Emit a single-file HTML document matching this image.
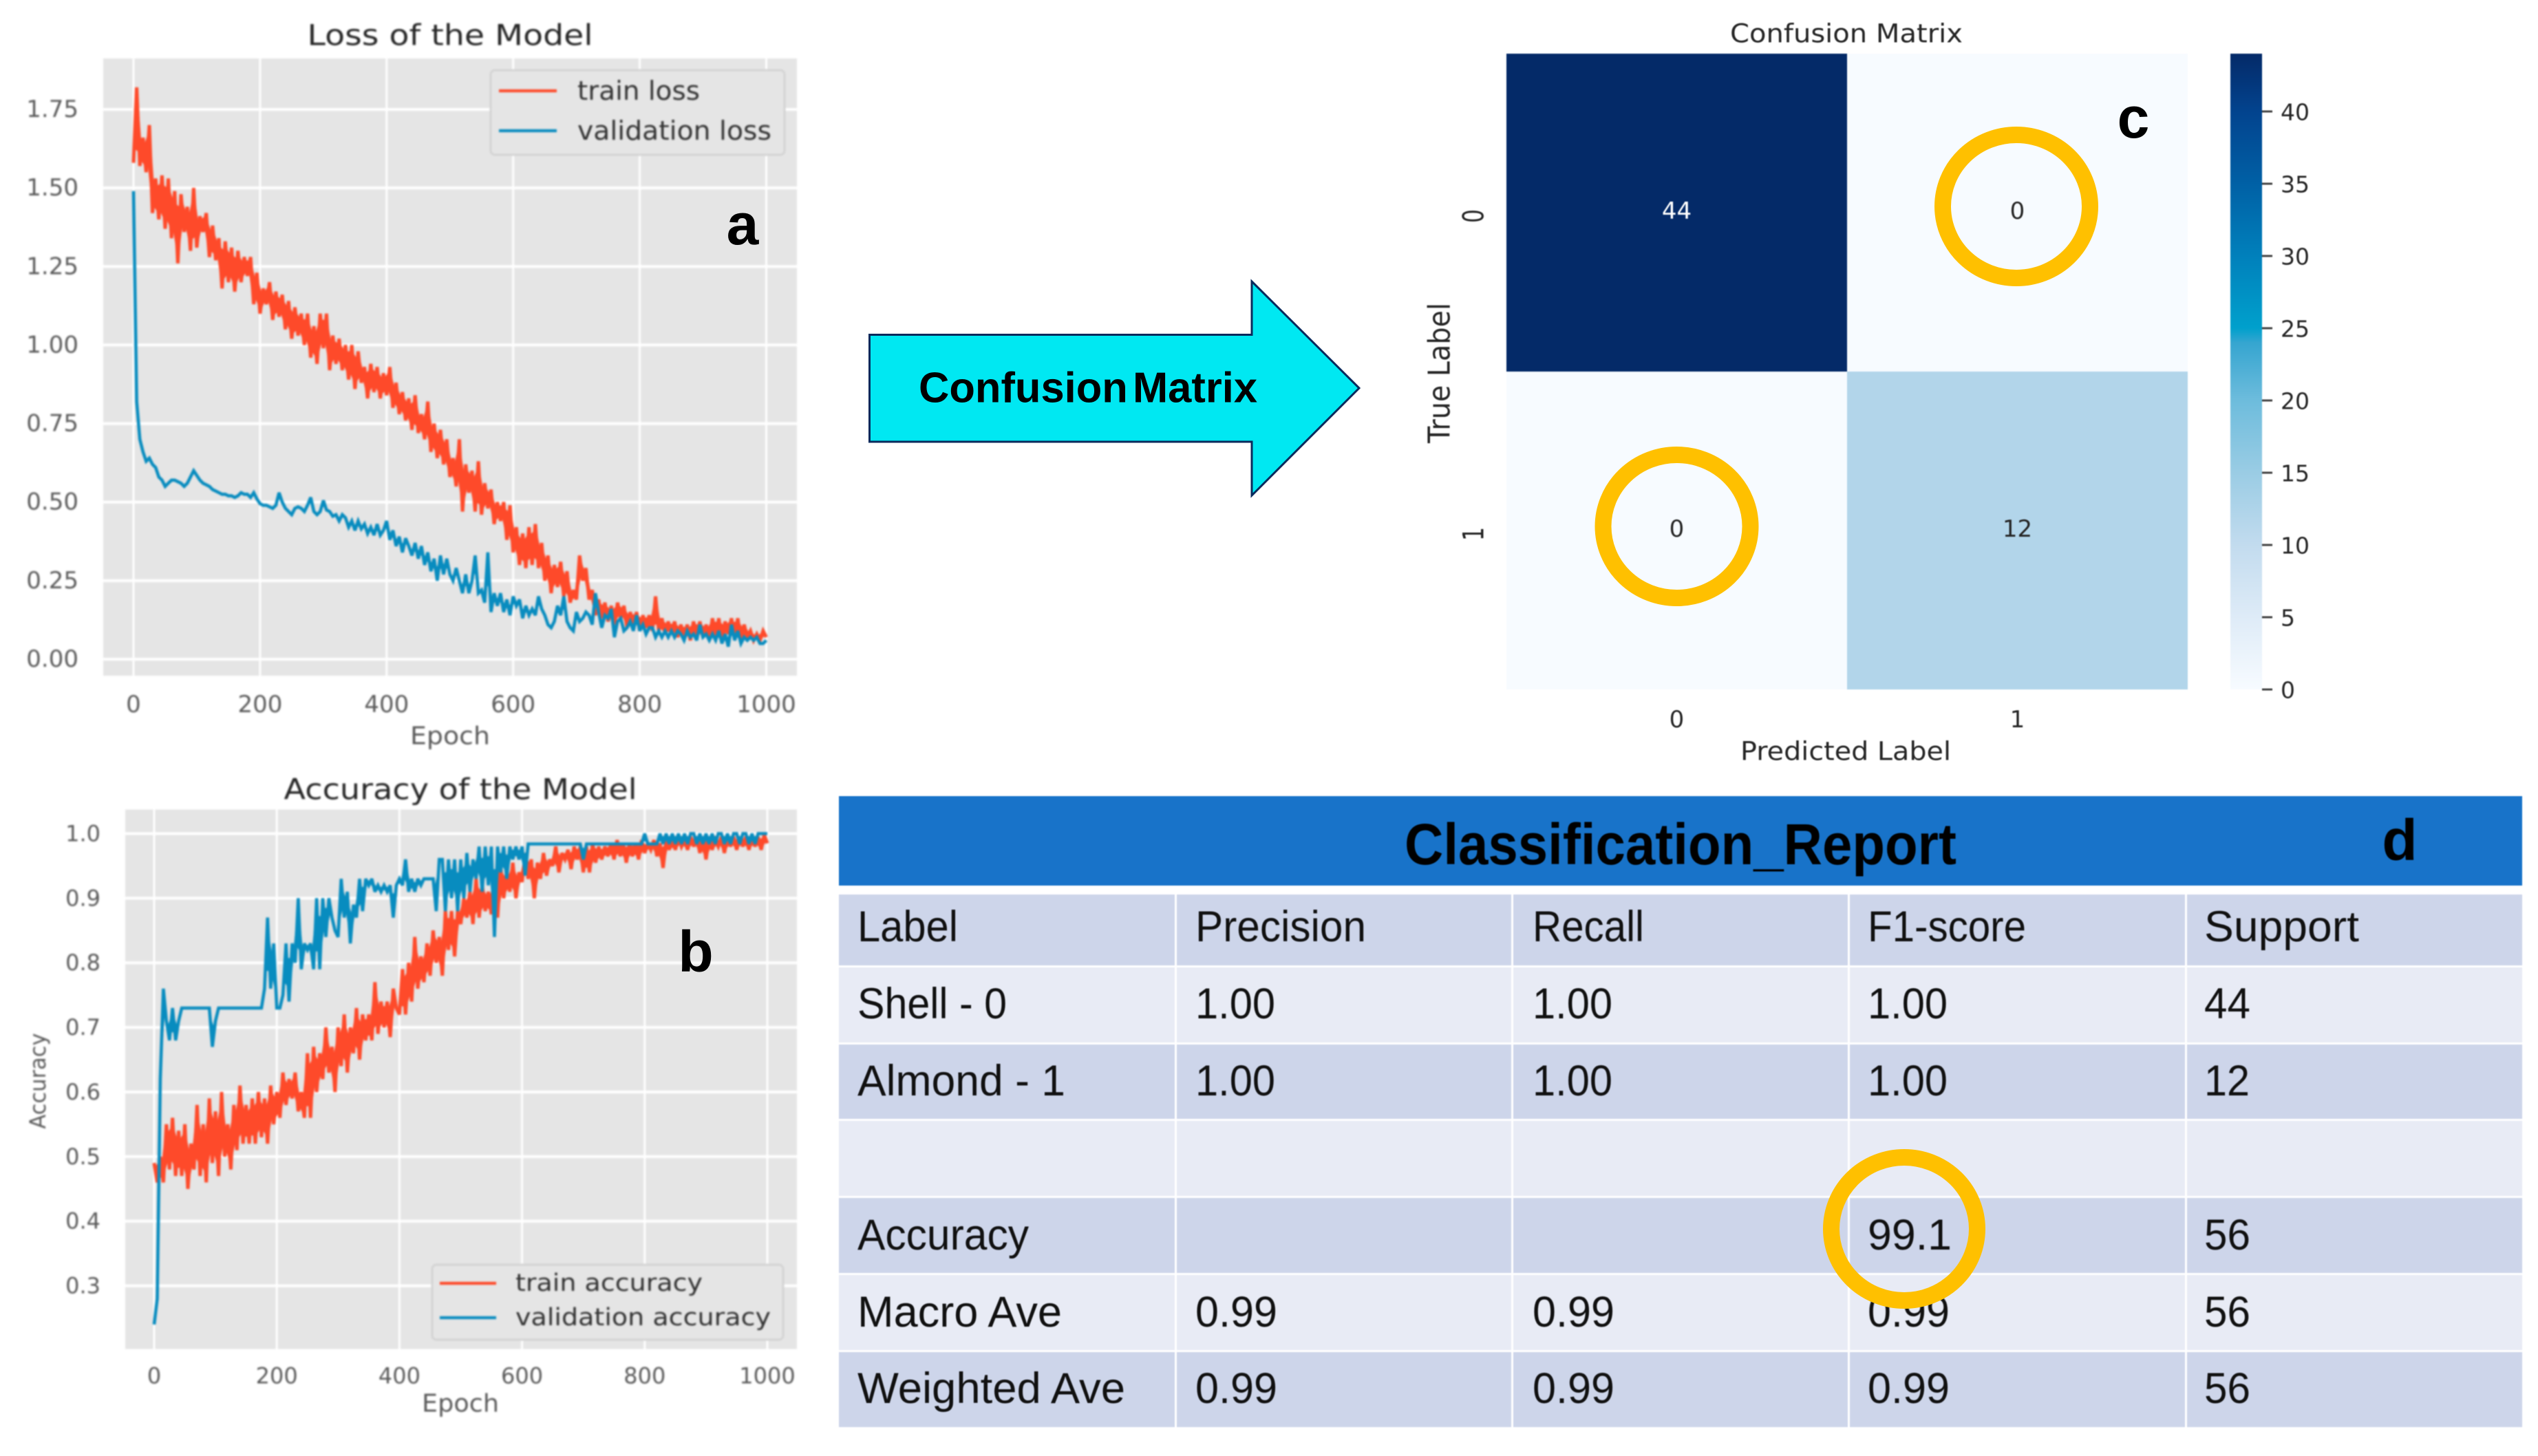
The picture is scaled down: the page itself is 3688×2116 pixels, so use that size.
<!DOCTYPE html>
<html lang="en">
<head>
<meta charset="utf-8">
<title>Model training results</title>
<style>
html,body{margin:0;padding:0;background:#fff;}
#figure{display:block;width:3688px;height:2116px;}
text{font-family:"DejaVu Sans",sans-serif;}
.lib text,text.lib{font-family:"Liberation Sans",sans-serif;}
.soft{filter:blur(1.3px);}
.soft2{filter:blur(0.7px);}
</style>
</head>
<body>
<svg id="figure" xmlns="http://www.w3.org/2000/svg" width="3688" height="2116" viewBox="0 0 3688 2116">
  <rect x="0" y="0" width="3688" height="2116" fill="#ffffff"/>
  <g id="chartA" class="soft"></g>
  <g id="chartB" class="soft"></g>
  <g id="chartC" class="soft2"></g>

  <g class="lib">
    <text x="1079" y="355" font-size="84" font-weight="700" text-anchor="middle" fill="#000">a</text>
    <text x="1011" y="1412" font-size="84" font-weight="700" text-anchor="middle" fill="#000">b</text>
    <text x="3100" y="200" font-size="84" font-weight="700" text-anchor="middle" fill="#000">c</text>
  </g>

  <g>
    <polygon points="1263.5,486.5 1819,486.5 1819,409 1975,564 1819,720 1819,642 1263.5,642" fill="#00e8f2" stroke="#0a2a5c" stroke-width="3"/>
    <text class="lib" x="1335" y="564" font-size="62" font-weight="700" fill="#000" dominant-baseline="central" word-spacing="-10" textLength="492" lengthAdjust="spacingAndGlyphs">Confusion Matrix</text>
  </g>

  <g class="lib soft2">
    <rect x="1219" y="1157" width="2446" height="130" fill="#1873c9"/>
    <text x="2041" y="1227" font-size="84" font-weight="700" fill="#000" dominant-baseline="central" textLength="802" lengthAdjust="spacingAndGlyphs">Classification_Report</text>
    <text x="3487" y="1250" font-size="84" font-weight="700" fill="#000" text-anchor="middle">d</text>

    <rect x="1219" y="1300" width="2446" height="103" fill="#cdd5ea"/>
    <rect x="1219" y="1406" width="2446" height="109" fill="#e8ebf5"/>
    <rect x="1219" y="1518" width="2446" height="108" fill="#cdd5ea"/>
    <rect x="1219" y="1629" width="2446" height="109" fill="#e8ebf5"/>
    <rect x="1219" y="1741" width="2446" height="109" fill="#cdd5ea"/>
    <rect x="1219" y="1853" width="2446" height="109" fill="#e8ebf5"/>
    <rect x="1219" y="1965" width="2446" height="109" fill="#cdd5ea"/>

    <rect x="1707" y="1287" width="3" height="787" fill="#ffffff"/>
    <rect x="2196" y="1287" width="3" height="787" fill="#ffffff"/>
    <rect x="2685" y="1287" width="3" height="787" fill="#ffffff"/>
    <rect x="3175" y="1287" width="3" height="787" fill="#ffffff"/>

    <g font-size="63" fill="#111">
      <text x="1246" y="1347" dominant-baseline="central" textLength="146" lengthAdjust="spacingAndGlyphs">Label</text>
      <text x="1737" y="1347" dominant-baseline="central" textLength="248" lengthAdjust="spacingAndGlyphs">Precision</text>
      <text x="2227" y="1347" dominant-baseline="central" textLength="162" lengthAdjust="spacingAndGlyphs">Recall</text>
      <text x="2714" y="1347" dominant-baseline="central" textLength="230" lengthAdjust="spacingAndGlyphs">F1-score</text>
      <text x="3203" y="1347" dominant-baseline="central" textLength="225" lengthAdjust="spacingAndGlyphs">Support</text>

      <text x="1246" y="1459" dominant-baseline="central" textLength="217" lengthAdjust="spacingAndGlyphs">Shell - 0</text>
      <text x="1737" y="1459" dominant-baseline="central" textLength="116" lengthAdjust="spacingAndGlyphs">1.00</text>
      <text x="2227" y="1459" dominant-baseline="central" textLength="116" lengthAdjust="spacingAndGlyphs">1.00</text>
      <text x="2714" y="1459" dominant-baseline="central" textLength="116" lengthAdjust="spacingAndGlyphs">1.00</text>
      <text x="3203" y="1459" dominant-baseline="central" textLength="67" lengthAdjust="spacingAndGlyphs">44</text>

      <text x="1246" y="1571" dominant-baseline="central" textLength="302" lengthAdjust="spacingAndGlyphs">Almond - 1</text>
      <text x="1737" y="1571" dominant-baseline="central" textLength="116" lengthAdjust="spacingAndGlyphs">1.00</text>
      <text x="2227" y="1571" dominant-baseline="central" textLength="116" lengthAdjust="spacingAndGlyphs">1.00</text>
      <text x="2714" y="1571" dominant-baseline="central" textLength="116" lengthAdjust="spacingAndGlyphs">1.00</text>
      <text x="3203" y="1571" dominant-baseline="central" textLength="66" lengthAdjust="spacingAndGlyphs">12</text>

      <text x="1246" y="1795" dominant-baseline="central" textLength="249" lengthAdjust="spacingAndGlyphs">Accuracy</text>
      <text x="2714" y="1795" dominant-baseline="central" textLength="122" lengthAdjust="spacingAndGlyphs">99.1</text>
      <text x="3203" y="1795" dominant-baseline="central" textLength="67" lengthAdjust="spacingAndGlyphs">56</text>

      <text x="1246" y="1907" dominant-baseline="central" textLength="297" lengthAdjust="spacingAndGlyphs">Macro Ave</text>
      <text x="1737" y="1907" dominant-baseline="central" textLength="119" lengthAdjust="spacingAndGlyphs">0.99</text>
      <text x="2227" y="1907" dominant-baseline="central" textLength="119" lengthAdjust="spacingAndGlyphs">0.99</text>
      <text x="2714" y="1907" dominant-baseline="central" textLength="119" lengthAdjust="spacingAndGlyphs">0.99</text>
      <text x="3203" y="1907" dominant-baseline="central" textLength="67" lengthAdjust="spacingAndGlyphs">56</text>

      <text x="1246" y="2018" dominant-baseline="central" textLength="389" lengthAdjust="spacingAndGlyphs">Weighted Ave</text>
      <text x="1737" y="2018" dominant-baseline="central" textLength="119" lengthAdjust="spacingAndGlyphs">0.99</text>
      <text x="2227" y="2018" dominant-baseline="central" textLength="119" lengthAdjust="spacingAndGlyphs">0.99</text>
      <text x="2714" y="2018" dominant-baseline="central" textLength="119" lengthAdjust="spacingAndGlyphs">0.99</text>
      <text x="3203" y="2018" dominant-baseline="central" textLength="67" lengthAdjust="spacingAndGlyphs">56</text>
    </g>
  </g>

  <g fill="none" stroke="#ffc000" stroke-width="24">
    <ellipse cx="2930" cy="300" rx="107" ry="104"/>
    <ellipse cx="2436.5" cy="765" rx="107" ry="104"/>
    <ellipse cx="2767" cy="1786" rx="106" ry="104"/>
  </g>
</svg>

<script>
// ---- Chart data ----
const sampleEvery = 5; // epochs between values
const lossXTicks = [0, 200, 400, 600, 800, 1000];
const lossYTicks = [0, 0.25, 0.5, 0.75, 1, 1.25, 1.5, 1.75];
const lossYLabels = ['0.00', '0.25', '0.50', '0.75', '1.00', '1.25', '1.50', '1.75'];
const trainLoss = [
1.58,1.82,1.57,1.66,1.55,1.70,1.42,1.53,1.40,1.54,
1.37,1.53,1.34,1.49,1.26,1.48,1.36,1.44,1.30,1.50,
1.31,1.41,1.36,1.42,1.28,1.38,1.27,1.34,1.18,1.33,
1.20,1.31,1.17,1.30,1.20,1.28,1.22,1.28,1.13,1.23,
1.10,1.18,1.13,1.20,1.08,1.17,1.09,1.16,1.05,1.14,
1.02,1.12,1.03,1.10,1.00,1.10,0.96,1.06,0.94,1.10,
0.99,1.10,0.92,1.03,0.94,1.02,0.92,1.00,0.89,1.00,
0.86,0.98,0.88,0.93,0.83,0.94,0.85,0.93,0.83,0.91,
0.84,0.93,0.80,0.88,0.78,0.85,0.76,0.83,0.73,0.84,
0.72,0.78,0.70,0.82,0.66,0.75,0.64,0.73,0.62,0.70,
0.58,0.64,0.55,0.70,0.47,0.62,0.53,0.60,0.47,0.63,
0.46,0.56,0.48,0.54,0.43,0.50,0.44,0.50,0.38,0.49,
0.34,0.42,0.30,0.40,0.29,0.42,0.30,0.43,0.29,0.37,
0.25,0.33,0.21,0.30,0.23,0.31,0.20,0.28,0.18,0.22,
0.19,0.33,0.25,0.29,0.19,0.22,0.14,0.19,0.13,0.18,
0.12,0.17,0.11,0.18,0.13,0.17,0.10,0.15,0.11,0.15,
0.09,0.14,0.10,0.14,0.09,0.20,0.09,0.13,0.08,0.12,
0.08,0.12,0.07,0.11,0.07,0.11,0.06,0.12,0.07,0.12,
0.07,0.11,0.06,0.13,0.07,0.13,0.06,0.12,0.08,0.13,
0.07,0.13,0.06,0.11,0.07,0.09,0.06,0.08,0.06,0.09,0.07
];
const valLoss = [
1.49,.82,.70,.66,.63,.64,.62,.61,.58,.57,
.55,.56,.57,.57,.565,.56,.55,.56,.58,.60,
.585,.57,.56,.555,.55,.54,.535,.53,.525,.525,
.52,.52,.515,.52,.53,.525,.525,.515,.53,.51,
.495,.49,.49,.485,.48,.49,.53,.50,.48,.47,
.46,.48,.485,.48,.47,.49,.515,.47,.46,.47,
.505,.475,.47,.455,.46,.44,.46,.45,.42,.44,
.41,.44,.415,.43,.40,.42,.395,.43,.395,.41,
.44,.38,.41,.36,.39,.34,.385,.36,.33,.37,
.32,.36,.30,.34,.28,.32,.25,.33,.27,.32,
.27,.25,.29,.25,.21,.27,.21,.25,.33,.21,
.22,.18,.34,.15,.21,.17,.21,.15,.19,.14,
.20,.17,.19,.13,.17,.14,.16,.14,.20,.16,
.14,.11,.10,.12,.17,.14,.20,.12,.10,.09,
.15,.12,.13,.15,.14,.11,.21,.15,.10,.14,
.13,.16,.07,.12,.13,.09,.10,.12,.09,.14,
.09,.11,.08,.10,.10,.07,.09,.07,.09,.07,
.09,.07,.09,.08,.06,.09,.07,.08,.06,.11,
.07,.08,.06,.08,.06,.09,.05,.08,.04,.11,
.06,.09,.05,.07,.06,.07,.06,.07,.05,.05,.06
];
const accXTicks = [0, 200, 400, 600, 800, 1000];
const accYTicks = [0.3, 0.4, 0.5, 0.6, 0.7, 0.8, 0.9, 1.0];
const accYLabels = ['0.3', '0.4', '0.5', '0.6', '0.7', '0.8', '0.9', '1.0'];
const trainAcc = [
.49,.46,.50,.46,.55,.48,.56,.47,.54,.47,
.55,.45,.52,.48,.58,.47,.55,.46,.59,.49,
.57,.47,.60,.50,.55,.48,.58,.51,.61,.52,
.58,.52,.59,.52,.60,.53,.59,.52,.61,.55,
.60,.56,.63,.58,.62,.59,.63,.57,.60,.56,
.66,.56,.67,.60,.66,.62,.70,.63,.67,.60,
.70,.64,.72,.63,.70,.66,.73,.65,.72,.68,
.72,.68,.77,.69,.74,.70,.74,.685,.76,.73,
.72,.79,.72,.80,.74,.84,.76,.81,.77,.83,
.78,.85,.80,.84,.78,.88,.82,.88,.81,.88,
.86,.90,.87,.91,.86,.93,.87,.92,.88,.91,
.875,.93,.87,.95,.90,.94,.91,.955,.90,.94,
.925,.97,.93,.96,.90,.955,.93,.97,.935,.96,
.95,.98,.94,.97,.96,.975,.945,.98,.96,.98,
.94,.98,.94,.985,.955,.98,.96,.98,.965,.985,
.96,.99,.965,.985,.955,.985,.965,.985,.96,.99,
.97,.985,.975,.99,.965,.985,.947,.99,.975,.99,
.975,.995,.98,.99,.975,.995,.98,.995,.97,.995,
.96,.995,.975,.99,.98,.995,.97,.995,.98,.995,
.975,.995,.98,.995,.975,.995,.98,.995,.975,.998,.985
];
const valAcc = [
.24,.28,.62,.76,.71,.68,.73,.68,.71,.73,
.73,.73,.73,.73,.73,.73,.73,.73,.73,.67,
.71,.73,.73,.73,.73,.73,.73,.73,.73,.73,
.73,.73,.73,.73,.73,.73,.76,.87,.76,.83,
.73,.73,.75,.83,.74,.83,.80,.90,.79,.83,
.82,.83,.79,.90,.79,.90,.84,.90,.87,.85,
.84,.93,.87,.91,.83,.89,.87,.93,.88,.93,
.92,.93,.91,.92,.91,.92,.91,.92,.87,.92,
.93,.92,.96,.91,.93,.91,.93,.92,.93,.93,
.93,.93,.88,.96,.96,.88,.96,.90,.96,.88,
.96,.90,.97,.91,.96,.93,.98,.91,.98,.92,
.98,.84,.98,.94,.98,.93,.98,.96,.98,.96,
.98,.935,.984,.984,.984,.984,.984,.984,.984,.984,
.984,.984,.984,.984,.984,.984,.984,.984,.984,.984,
.96,.984,.984,.984,.984,.984,.984,.984,.984,.984,
.984,.984,.984,.984,.984,.984,.984,.984,.984,.984,
1.0,.984,.984,.984,.984,1.0,.984,1.0,.984,1.0,
.984,1.0,.984,1.0,.984,1.0,1.0,.984,1.0,.984,
1.0,.984,1.0,.984,1.0,1.0,.984,1.0,.984,1.0,
1.0,.984,1.0,1.0,.984,1.0,.984,1.0,1.0,1.0,1.0
];
const matrixRows = ['0', '1'];
const matrixCols = ['0', '1'];
const matrixValues = [[44, 0], [0, 12]];
const colorbarTicks = [0, 5, 10, 15, 20, 25, 30, 35, 40];
const colorbarMax = 44;
const colorbarLevels = [0, 5, 10, 15, 20, 24, 25, 30, 35, 40, 44];
const colorbarColors = ['#f7fbff', '#deebf7', '#c2dbee', '#9acce4', '#6dbcdc', '#35a5d0', '#00a0cc', '#0080bb', '#0060a5', '#02438e', '#042a68'];

// ---- Drawing helpers ----
const SVGNS = 'http://www.w3.org/2000/svg';
function make(parent, tag, attrs, content) {
  const el = document.createElementNS(SVGNS, tag);
  for (const k in attrs) el.setAttribute(k, attrs[k]);
  if (content !== undefined) el.textContent = content;
  parent.appendChild(el);
  return el;
}
function linePath(values, xFn, yFn) {
  return values.map((v, i) => (i ? 'L' : 'M') + xFn(i * sampleEvery).toFixed(1) + ' ' + yFn(v).toFixed(1)).join('');
}
// Solid core between successive noisy values, so a dense 1-epoch line reads as a filled band.
function bandPath(values, share, xFn, yFn) {
  const top = [], bottom = [];
  for (let i = 0; i + 1 < values.length; i++) {
    const mid = (values[i] + values[i + 1]) / 2;
    const half = Math.abs(values[i] - values[i + 1]) * share;
    const px = xFn((i + 0.5) * sampleEvery).toFixed(1);
    top.push(px + ' ' + yFn(mid + half).toFixed(1));
    bottom.unshift(px + ' ' + yFn(mid - half).toFixed(1));
  }
  return 'M' + top.concat(bottom).join('L') + 'Z';
}
function scale(d0, d1, r0, r1) {
  return v => r0 + (v - d0) * (r1 - r0) / (d1 - d0);
}

function drawLineChart(root, o) {
  const x = scale(0, 1000, o.x0, o.x1000);
  const y = scale(o.yA, o.yB, o.pyA, o.pyB);
  const bg = make(root, 'rect', {x: o.left, y: o.top, width: o.right - o.left, height: o.bottom - o.top, fill: '#e5e5e5'});
  
  
  o.yTicks.forEach((t, i) => {
    const g = make(root, 'line', {x1: o.left, x2: o.right, y1: y(t), y2: y(t), stroke: '#ffffff', 'stroke-width': 4});
    
    
    const lab = make(root, 'text', {x: o.yLabelX, y: y(t), 'text-anchor': 'end', 'dominant-baseline': 'central', 'font-size': o.tickSize, fill: '#5a5a5a'}, o.yLabels[i]);
    
    
  });
  o.xTicks.forEach(t => {
    const g = make(root, 'line', {x1: x(t), x2: x(t), y1: o.top, y2: o.bottom, stroke: '#ffffff', 'stroke-width': 3});
    
    
    const lab = make(root, 'text', {x: x(t), y: o.xLabelY, 'text-anchor': 'middle', 'dominant-baseline': 'central', 'font-size': o.tickSize, fill: '#5a5a5a'}, String(t));
    
    
  });
  const trCore = make(root, 'path', {d: bandPath(o.train, o.trainBand, x, y), fill: red});
  
  
  const tr = make(root, 'path', {d: linePath(o.train, x, y), fill: 'none', stroke: red, 'stroke-width': 5, 'stroke-linejoin': 'miter', 'stroke-miterlimit': 3});
  
  
  const vaCore = make(root, 'path', {d: bandPath(o.val, o.valBand, x, y), fill: blue});
  
  
  const va = make(root, 'path', {d: linePath(o.val, x, y), fill: 'none', stroke: blue, 'stroke-width': 4.6, 'stroke-linejoin': 'miter', 'stroke-miterlimit': 3});
  
  

  const title = make(root, 'text', {x: o.titleX, y: o.titleY, 'text-anchor': 'middle', 'dominant-baseline': 'central', 'font-size': o.titleSize, fill: '#262626', textLength: o.titleLen, lengthAdjust: 'spacingAndGlyphs'}, o.title);
  
  
  const xl = make(root, 'text', {x: o.titleX, y: o.xTitleY, 'text-anchor': 'middle', 'dominant-baseline': 'central', 'font-size': o.axisSize, fill: '#5a5a5a', textLength: o.xTitleLen, lengthAdjust: 'spacingAndGlyphs'}, 'Epoch');
  
  

  const leg = make(root, 'rect', {x: o.legend.x, y: o.legend.y, width: o.legend.w, height: o.legend.h, rx: 6, fill: '#e5e5e5', stroke: '#d4d4d4', 'stroke-width': 3});
  
  
  o.legend.items.forEach(it => {
    const ll = make(root, 'line', {x1: o.legend.lineX0, x2: o.legend.lineX1, y1: it.y, y2: it.y, stroke: it.color, 'stroke-width': 4.2});
    
    
    const lt = make(root, 'text', {x: o.legend.textX, y: it.y, 'dominant-baseline': 'central', 'font-size': o.legend.size, fill: '#333333', textLength: it.len, lengthAdjust: 'spacingAndGlyphs'}, it.label);
    
    
  });
}

const red = '#fe4a2a', blue = '#088cbf';
drawLineChart(document.getElementById('chartA'), {
  left: 150, right: 1158, top: 85, bottom: 982,
  x0: 194, x1000: 1113.5, yA: 0, yB: 1.75, pyA: 958, pyB: 159,
  xTicks: lossXTicks, yTicks: lossYTicks, yLabels: lossYLabels,
  train: trainLoss, val: valLoss, trainBand: 0.32, valBand: 0.12,
  yLabelX: 114, xLabelY: 1024, tickSize: 34,
  title: 'Loss of the Model', titleX: 654, titleY: 51, titleSize: 42, titleLen: 415,
  xTitleY: 1070, axisSize: 36, xTitleLen: 116,
  legend: {x: 713, y: 102, w: 427, h: 123, lineX0: 725, lineX1: 809, textX: 839, size: 38, items: [
    {y: 132, color: red, label: 'train loss', len: 178},
    {y: 190, color: blue, label: 'validation loss', len: 282}
  ]}
});
drawLineChart(document.getElementById('chartB'), {
  left: 182, right: 1158, top: 1176.5, bottom: 1960.5,
  x0: 224, x1000: 1115, yA: 1.0, yB: 0.3, pyA: 1211.5, pyB: 1868.6,
  xTicks: accXTicks, yTicks: accYTicks, yLabels: accYLabels,
  train: trainAcc, val: valAcc, trainBand: 0.32, valBand: 0.25,
  yLabelX: 146, xLabelY: 1999.5, tickSize: 32,
  title: 'Accuracy of the Model', titleX: 669, titleY: 1147, titleSize: 42, titleLen: 513,
  xTitleY: 2040, axisSize: 36, xTitleLen: 112,
  legend: {x: 628, y: 1838, w: 510, h: 109, lineX0: 639, lineX1: 721, textX: 749, size: 35, items: [
    {y: 1865, color: red, label: 'train accuracy', len: 272},
    {y: 1915, color: blue, label: 'validation accuracy', len: 371}
  ]}
});
(function () {
  const root = document.getElementById('chartB');
  const yt = make(root, 'text', {x: 55, y: 1571, 'text-anchor': 'middle', 'dominant-baseline': 'central', 'font-size': 32, fill: '#5a5a5a', textLength: 139, lengthAdjust: 'spacingAndGlyphs', transform: 'rotate(-90 55 1571)'}, 'Accuracy');
  
  
})();

// ---- Confusion matrix ----
(function () {
  const root = document.getElementById('chartC');
  const gridX = scale(0, 2, 2189, 3179);
  const gridY = scale(0, 2, 78, 1002);
  const barY = scale(0, colorbarMax, 1002, 78);
  function colorFor(v) {
    let i = 0;
    while (i < colorbarLevels.length - 2 && v > colorbarLevels[i + 1]) i++;
    const t = (v - colorbarLevels[i]) / (colorbarLevels[i + 1] - colorbarLevels[i]);
    const a = colorbarColors[i], b = colorbarColors[i + 1];
    const mix = s => Math.round(parseInt(a.substr(s, 2), 16) * (1 - t) + parseInt(b.substr(s, 2), 16) * t);
    return 'rgb(' + mix(1) + ',' + mix(3) + ',' + mix(5) + ')';
  }
  matrixValues.forEach((row, r) => row.forEach((v, c) => {
    const cell = make(root, 'rect', {x: gridX(c), y: gridY(r), width: gridX(c + 1) - gridX(c), height: gridY(r + 1) - gridY(r), fill: colorFor(v)});
    
    
    const lab = make(root, 'text', {x: gridX(c + 0.5), y: gridY(r + 0.5) - 2, 'text-anchor': 'middle', 'dominant-baseline': 'central', 'font-size': 34, fill: v > 22 ? '#ffffff' : '#262626'}, String(v));
    
    
  }));
  matrixCols.forEach((t, c) => {
    const lab = make(root, 'text', {x: gridX(c + 0.5), y: 1046, 'text-anchor': 'middle', 'dominant-baseline': 'central', 'font-size': 34, fill: '#262626'}, t);
    
    
  });
  matrixRows.forEach((t, r) => {
    const cy = gridY(r + 0.5) + 5;
    const lab = make(root, 'text', {x: 2141, y: cy, 'text-anchor': 'middle', 'dominant-baseline': 'central', 'font-size': 42, fill: '#262626', textLength: 20, lengthAdjust: 'spacingAndGlyphs', transform: 'rotate(-90 2141 ' + cy + ')'}, t);
    
    
  });
  const title = make(root, 'text', {x: 2683, y: 49, 'text-anchor': 'middle', 'dominant-baseline': 'central', 'font-size': 37, fill: '#262626', textLength: 338, lengthAdjust: 'spacingAndGlyphs'}, 'Confusion Matrix');
  
  
  const xt = make(root, 'text', {x: 2682, y: 1092, 'text-anchor': 'middle', 'dominant-baseline': 'central', 'font-size': 37, fill: '#262626', textLength: 306, lengthAdjust: 'spacingAndGlyphs'}, 'Predicted Label');
  
  
  const yt = make(root, 'text', {x: 2092, y: 542, 'text-anchor': 'middle', 'dominant-baseline': 'central', 'font-size': 44, fill: '#262626', textLength: 204, lengthAdjust: 'spacingAndGlyphs', transform: 'rotate(-90 2092 542)'}, 'True Label');
  
  

  const defs = make(root, 'defs', {});
  const grad = make(defs, 'linearGradient', {id: 'cbGrad', x1: 0, y1: 1, x2: 0, y2: 0});
  colorbarLevels.forEach((lv, i) => {
    make(grad, 'stop', {offset: lv / colorbarMax, 'stop-color': colorbarColors[i]});
  });
  const bar = make(root, 'rect', {x: 3241, y: barY(colorbarMax), width: 46, height: barY(0) - barY(colorbarMax), fill: 'url(#cbGrad)'});
  
  
  colorbarTicks.forEach(t => {
    const tick = make(root, 'line', {x1: 3287, x2: 3302, y1: barY(t), y2: barY(t), stroke: '#444444', 'stroke-width': 3});
    
    
    const lab = make(root, 'text', {x: 3314, y: barY(t) + 1, 'dominant-baseline': 'central', 'font-size': 33, fill: '#262626'}, String(t));
    
    
  });
})();
</script>
</body>
</html>
